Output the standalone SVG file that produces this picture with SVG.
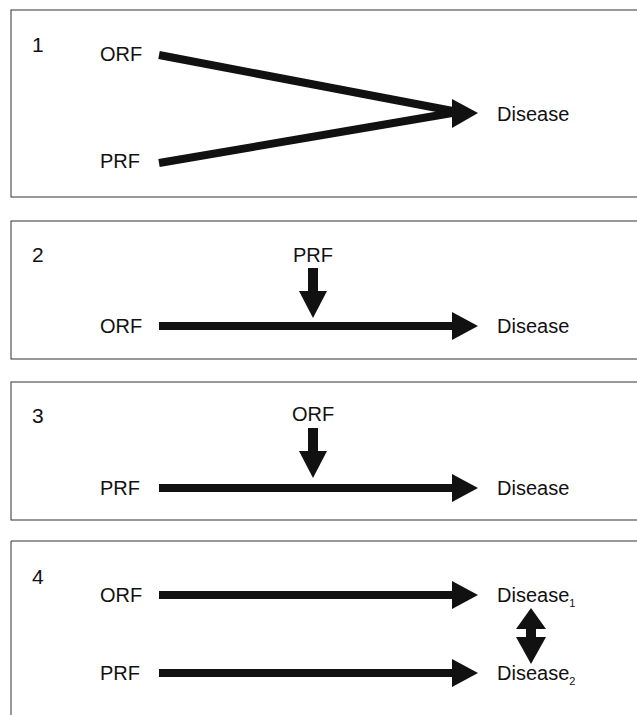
<svg xmlns="http://www.w3.org/2000/svg" width="637" height="715" viewBox="0 0 637 715">
<style>
.panel{fill:#fff;stroke:#333;stroke-width:1}
text{font-family:"Liberation Sans","Open Sans",sans-serif;font-size:20px;fill:#111}
.num{font-size:21px}
.ln{stroke:#111;stroke-width:8;fill:none}
.hd{fill:#111}
</style>
<rect width="637" height="715" fill="#fff"/>
<g id="panel1">
<rect class="panel" x="11" y="10" width="640" height="187"/>
<text class="num" x="32" y="52">1</text>
<g id="p1-orf"><text x="100" y="61">ORF</text></g>
<g id="p1-prf"><text x="100" y="168">PRF</text></g>
<g id="p1-disease"><text x="497" y="121">Disease</text></g>
</g>
<g id="panel2">
<rect class="panel" x="11" y="221" width="640" height="138"/>
<text class="num" x="32" y="262">2</text>
<g id="p2-prf"><text x="313" y="262" text-anchor="middle">PRF</text></g>
<g id="p2-orf"><text x="100" y="333">ORF</text></g>
<g id="p2-disease"><text x="497" y="333">Disease</text></g>
</g>
<g id="panel3">
<rect class="panel" x="11" y="382" width="640" height="138"/>
<text class="num" x="32" y="423">3</text>
<g id="p3-orf"><text x="313" y="421" text-anchor="middle">ORF</text></g>
<g id="p3-prf"><text x="100" y="495">PRF</text></g>
<g id="p3-disease"><text x="497" y="495">Disease</text></g>
</g>
<g id="panel4">
<path d="M651 541 H11 V720" fill="none" stroke="#333" stroke-width="1"/>
<text class="num" x="32" y="584">4</text>
<g id="p4-orf"><text x="100" y="602">ORF</text></g>
<g id="p4-prf"><text x="100" y="680">PRF</text></g>
<g id="p4-disease1"><text x="497" y="602">Disease<tspan font-size="11" dy="5">1</tspan></text></g>
<g id="p4-disease2"><text x="497" y="680">Disease<tspan font-size="11" dy="5">2</tspan></text></g>
</g>
<g id="connectors">
<line class="ln" x1="159" y1="55" x2="458" y2="112"/>
<line class="ln" x1="159" y1="163" x2="458" y2="112"/>
<polygon class="hd" points="452,99 478,113 452,128"/>
<line class="ln" x1="159" y1="326" x2="456" y2="326"/>
<polygon class="hd" points="452,312 478,326 452,340"/>
<line x1="313" y1="268" x2="313" y2="292" stroke="#111" stroke-width="10"/>
<polygon class="hd" points="299,291 327,291 313,318"/>
<line class="ln" x1="159" y1="488" x2="456" y2="488"/>
<polygon class="hd" points="452,474 478,488 452,502"/>
<line x1="313" y1="428" x2="313" y2="452" stroke="#111" stroke-width="10"/>
<polygon class="hd" points="299,451 327,451 313,478"/>
<line class="ln" x1="159" y1="595" x2="456" y2="595"/>
<polygon class="hd" points="452,581 478,595 452,609"/>
<line class="ln" x1="159" y1="673" x2="456" y2="673"/>
<polygon class="hd" points="452,659 478,673 452,687"/>
<line x1="531" y1="625" x2="531" y2="641" stroke="#111" stroke-width="10"/>
<polygon class="hd" points="531,608 546,629 516,629"/>
<polygon class="hd" points="516,637 546,637 531,664"/>
</g>
</svg>
